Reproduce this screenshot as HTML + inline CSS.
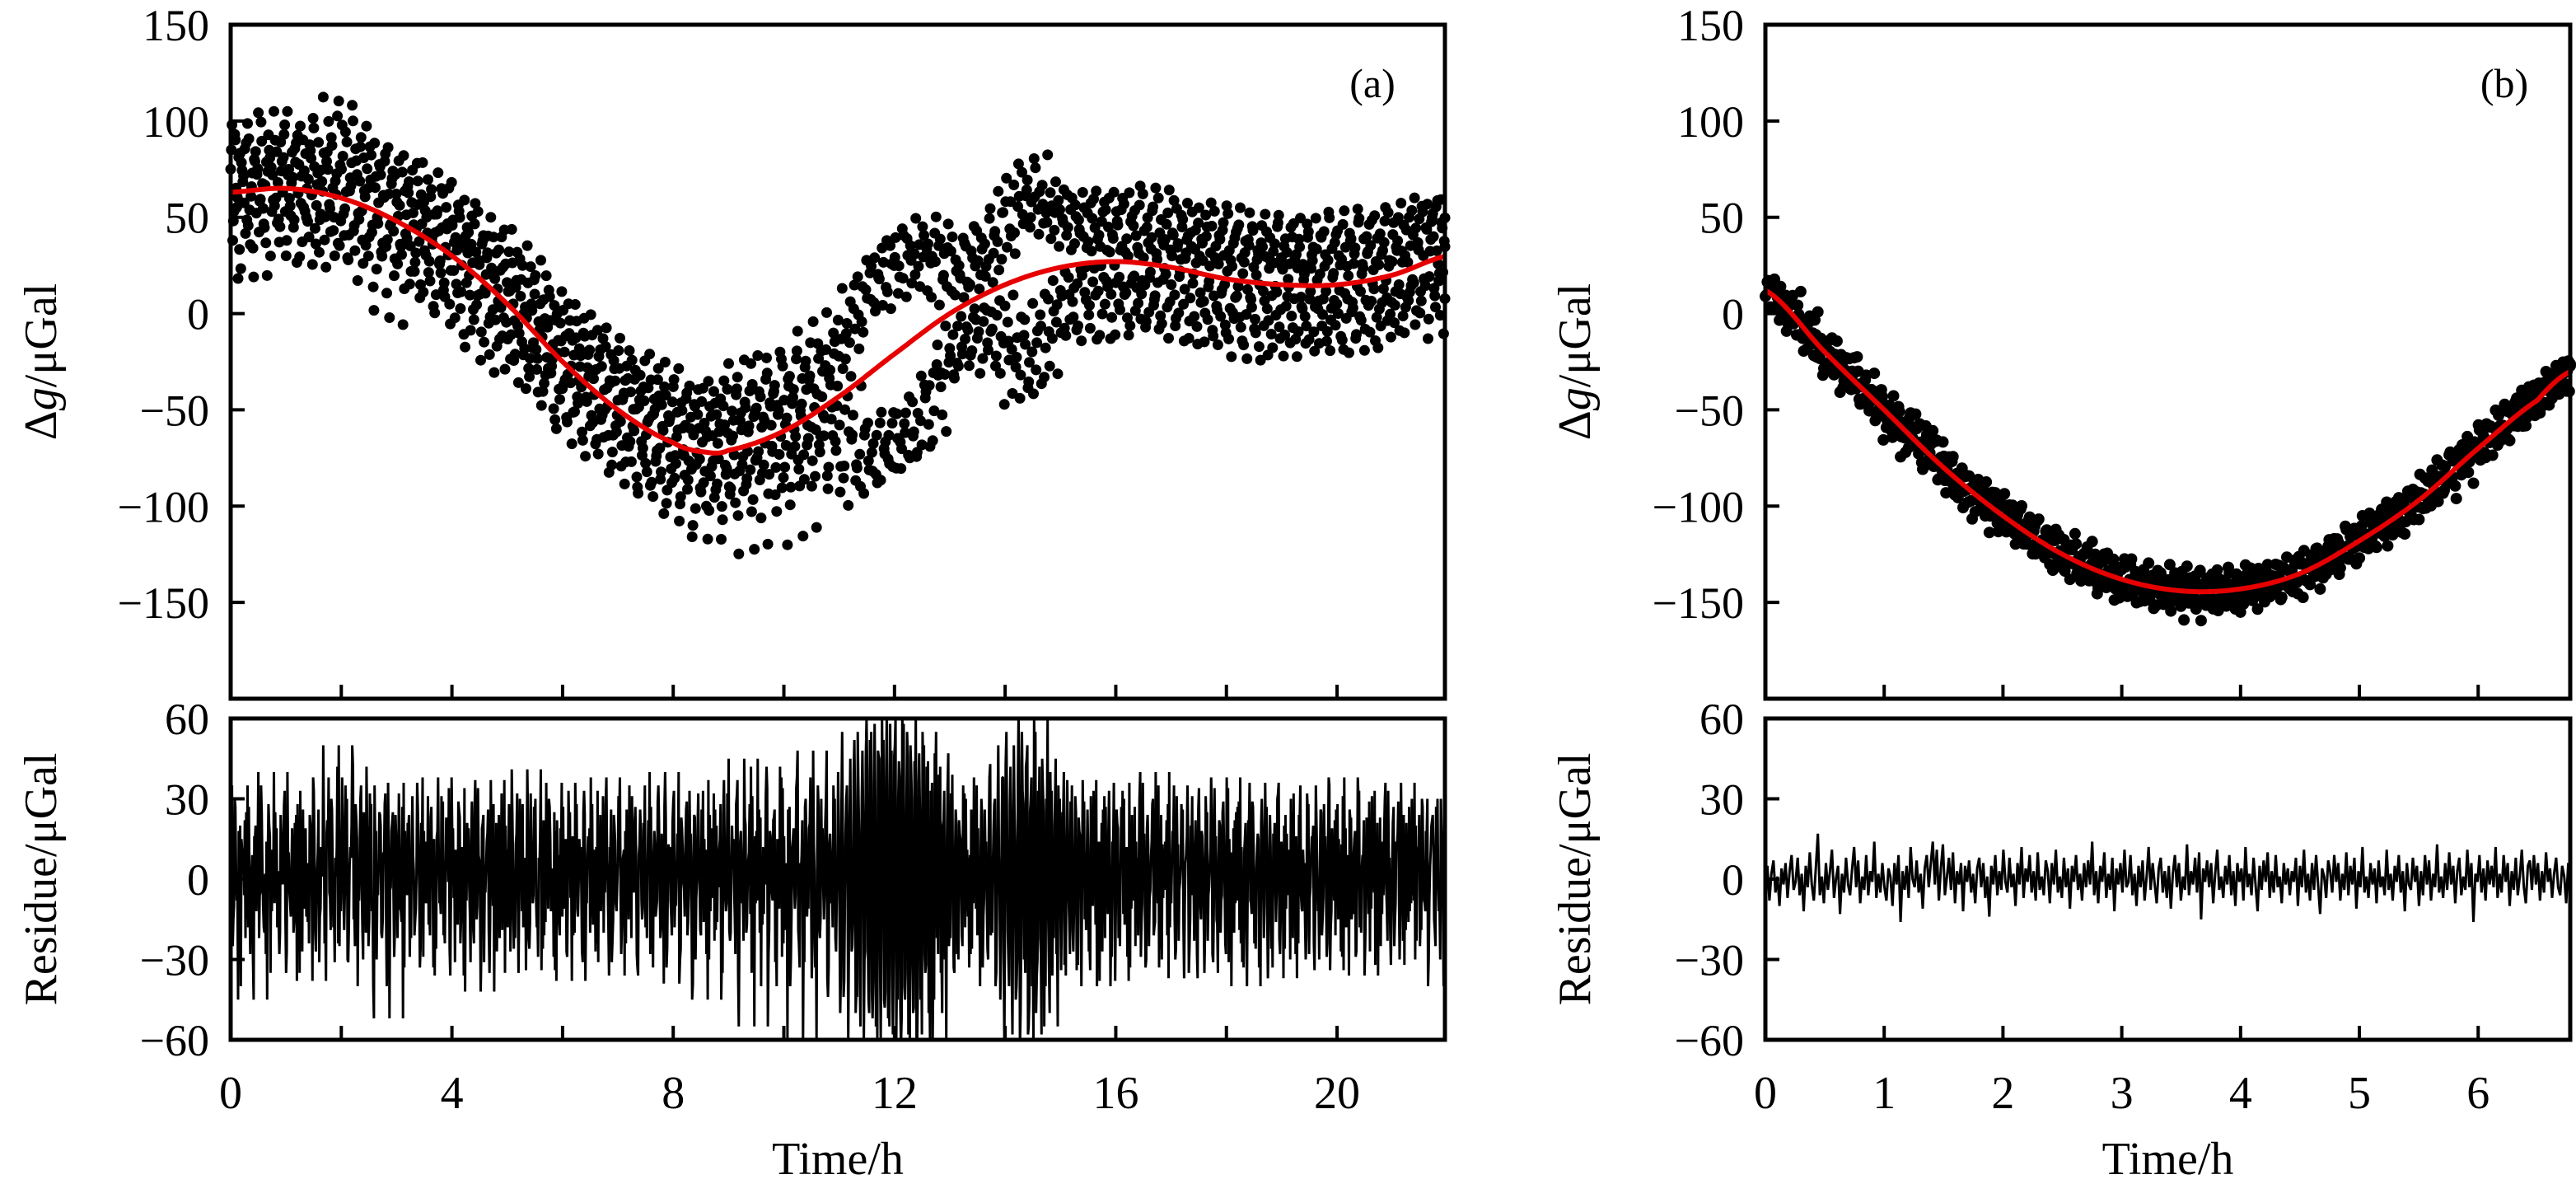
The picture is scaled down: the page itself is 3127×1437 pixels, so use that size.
<!DOCTYPE html>
<html><head><meta charset="utf-8"><style>
html,body{margin:0;padding:0;background:#fff;}
svg{display:block;font-family:"Liberation Serif",serif;}
</style></head><body>
<svg id="chart" width="3127" height="1437" viewBox="0 0 3127 1437" xmlns="http://www.w3.org/2000/svg"></svg>
<script>
// ---- Panel (a) data ----
const fitA_t = [0,1,2,3,4,5,6,7,8,8.6,9,10,11,12,13,14,15,16,17,18,19,20,21,22];
const fitA_v = [63,65,60,48,30,5,-25,-50,-67,-72,-71,-61,-43,-21,0,15,24,27,24,18,15,15,20,30];
const resA = [12,-25,30,-8,18,-40,5,22,-15,27,-3,-30,15,8,-22,35,-10,2,-45,20,11,-6,25,-18,-28,9,16,-12,40,-5,
3,-20,14,28,-35,7,-9,19,-16,24,-2,33,-27,10,-14,6,21,-38,13,-7,26,-11,1,-24,17,38,-19,4,-31,12,
50,-12,22,-5,30,-18,8,42,-25,15,-8,35,-30,5,20,-15,28,-40,12,-3,25,-20,10,32,-12,-52,18,-6,24,-22,
9,-16,36,-4,21,-29,14,3,-11,27,-33,6,18,-9,31,-21,2,15,-26,38,-7,11,-17,23,-1,-36,16,8,-13,29,
-24,12,34,-8,19,-31,5,26,-15,9,-42,21,-3,14,-19,37,-10,7,-27,24,-5,17,-35,11,28,-14,3,-22,32,-9,
20,-18,8,41,-26,13,-6,30,-12,4,-34,22,-16,10,27,-8,-29,18,2,-21,36,-11,15,-4,25,-38,9,19,-14,6,
-27,33,-7,16,-20,28,-2,12,-31,24,-9,5,38,-17,11,-24,20,-12,31,-5,7,-36,26,-15,14,-3,22,-28,9,18,
-11,35,-22,6,27,-33,13,-8,21,-18,4,40,-26,10,-14,29,-6,17,-39,23,-1,12,-21,33,-10,8,-30,19,-4,26,
-16,11,-45,24,-7,32,-19,5,15,-28,37,-12,9,-23,20,-3,28,-35,14,-9,45,-20,7,-13,31,-55,18,-5,23,-17,
10,42,-29,16,-8,26,-40,12,-2,34,-19,6,22,-31,15,-11,38,-24,3,-60,27,-14,19,-6,48,-33,9,-18,30,-4,
21,-37,13,-9,35,-22,6,-15,29,-44,17,-3,24,-27,40,-50,55,-38,30,-60,45,-25,52,-42,35,-55,48,-30,60,-45,
38,-52,58,-35,46,-60,30,-48,62,-40,25,-58,50,-32,44,-62,36,-45,55,-28,42,-50,33,-60,47,-22,39,-35,20,-30,
15,-25,32,-12,8,-28,22,-5,35,-18,11,-33,26,-9,17,-21,4,30,-14,9,-26,38,-11,19,-40,24,-7,14,-30,43,
-20,28,-35,50,-45,38,-62,55,-30,42,-58,25,-40,60,-50,33,-22,45,-55,30,-15,40,-36,20,-28,35,-12,25,-32,16,
-6,29,-19,11,-34,23,-3,37,-15,8,-27,31,-10,18,-40,14,-2,26,-22,6,33,-17,12,-38,21,-8,27,-13,5,-29,
36,-11,19,-25,8,30,-16,3,-33,24,-7,14,-21,40,-9,17,-30,11,-4,28,-18,6,35,-26,13,-1,22,-37,9,18,
-14,31,-23,5,26,-10,16,-35,20,-6,12,-28,34,-15,7,-20,25,-3,38,-31,10,-17,22,-8,29,-24,4,15,-40,19,
-9,27,-19,12,-33,21,-4,36,-13,8,-26,17,-1,30,-22,14,-37,24,-6,11,-16,32,-28,9,20,-11,3,-30,25,-7,
16,-24,35,-12,6,-21,28,-3,13,-34,19,-8,26,-15,10,-29,38,-18,4,22,-10,15,-27,31,-5,9,-36,23,-13,18,
-2,33,-20,7,-25,14,29,-11,5,-32,21,-16,12,-6,36,-23,8,-14,27,-9,17,-30,11,24,-19,4,-12,30,-8,20];
const spanA = 21.95;
const xTicksA = [0,2,4,6,8,10,12,14,16,18,20];
const xLabelsA = ["0","","4","","8","","12","","16","","20"];

// ---- Panel (b) data ----
const fitB_t = [0,0.5,1,1.5,2,2.5,3,3.5,4,4.5,5,5.5,6,6.5,6.78];
const fitB_v = [12,-20,-50,-80,-105,-125,-138,-144,-143,-135,-118,-97,-70,-45,-30];
const resB = [-3,5,-8,2,7,-5,1,-10,4,-2,6,-7,3,9,-4,-1,8,-6,2,-12,
5,-3,10,-2,-8,4,17,-6,1,-9,6,-4,3,11,-7,0,5,-13,2,-5,
8,-2,-6,4,12,-3,7,-9,1,-4,9,-6,3,-1,14,-7,2,-5,6,-3,
-8,4,1,-10,6,-2,9,-16,3,-4,5,-7,12,0,-3,7,-5,2,-11,4,
9,-3,6,14,-2,11,-8,4,13,-6,1,8,-4,10,-9,3,-2,6,-12,5,
-1,7,-5,2,-9,4,8,-3,6,-7,1,-14,5,-2,9,-6,3,-4,11,-1,
-5,8,-3,2,-10,6,-2,12,-7,4,-1,9,-5,3,-8,10,-4,1,-6,7,
3,-9,6,-2,11,-5,1,-7,8,-3,4,-11,5,-1,9,-4,2,-8,6,-3,
7,-2,14,-6,3,-9,5,-1,10,-7,2,-4,8,-12,4,-2,6,-5,11,-3,
-1,9,-6,2,-10,5,-3,7,-8,1,12,-4,6,-2,-9,4,8,-5,3,-7,
5,-11,2,9,-3,6,-8,1,-4,13,-6,3,-2,8,-5,10,-15,4,-1,7,
-3,6,-9,2,11,-4,1,-7,5,-2,9,-6,3,-10,6,-1,4,-8,12,-3,
2,-6,8,-2,-12,5,-4,7,-1,10,-7,3,-5,9,-3,1,-9,6,-2,4,
-6,3,-1,8,-10,5,-3,11,-5,2,-8,6,-4,9,-2,-13,4,1,-7,7,
3,-5,9,-1,6,-8,2,-4,10,-6,5,-2,8,-11,3,-3,12,-5,1,-7,
6,-2,4,-9,7,-3,1,-6,11,-4,2,-8,5,-1,9,-5,3,-12,6,-2,
-4,8,-1,5,-10,3,-6,9,-2,7,-8,2,-3,13,-5,1,-7,6,-4,10,
-2,5,-9,3,8,-6,1,-4,11,-3,6,-16,2,-1,9,-5,4,-8,7,-2,
5,-3,12,-7,2,-5,9,-1,6,-10,3,-4,8,-6,1,11,-3,-9,5,7,
-4,9,-2,6,-8,3,-5,10,-1,4,-7,2,8,-3,-6,5,1,-9,6,3];
const spanB = 6.775;
const xTicksB = [0,1,2,3,4,5,6];
const xLabelsB = ["0","1","2","3","4","5","6"];

const yTicksTop = [150,100,50,0,-50,-100,-150];
const yLabelsTop = ["150","100","50","0","\u221250","\u2212100","\u2212150"];
const yTicksBot = [60,30,0,-30,-60];
const yLabelsBot = ["60","30","0","\u221230","\u221260"];

const NS = "http://www.w3.org/2000/svg";
const svg = document.getElementById('chart');
function mk(tag, attrs, parent){ const e=document.createElementNS(NS,tag); for(const k in attrs) e.setAttribute(k,attrs[k]); (parent||svg).appendChild(e); return e; }

function cr(ts, vs, t){
  let i=0; while(i<ts.length-2 && t>ts[i+1]) i++;
  const p0=vs[Math.max(i-1,0)],p1=vs[i],p2=vs[i+1],p3=vs[Math.min(i+2,vs.length-1)];
  const u=(t-ts[i])/(ts[i+1]-ts[i]);
  return 0.5*((2*p1)+(-p0+p2)*u+(2*p0-5*p1+4*p2-p3)*u*u+(-p0+3*p1-3*p2+p3)*u*u*u);
}

function panel(cfg){
  const g = mk('g',{});
  
  
  const L=cfg.L,R=cfg.R;
  const xs = t => L + (t/cfg.span)*(R-L);
  const T1=30,B1=848,T2=872,B2=1262;
  const ysTop = v => T1 + (150-v)/350*(B1-T1);
  const ysBot = v => T2 + (60-v)/120*(B2-T2);
  const n = cfg.res.length;
  const step = cfg.span/(n-1);
  const dots = mk('g',{fill:'#000'},g);
  
  
  cfg.layers.forEach((off,li)=>{
    for(let i=0;i<n;i++){
      const t = Math.min(cfg.span, i*step + li*step/cfg.layers.length);
      const v = cr(cfg.ft,cfg.fv,t)+cfg.res[(i+off)%n];
      const c = mk('circle',{cx:xs(t).toFixed(1),cy:ysTop(v).toFixed(1),r:cfg.r},dots);
      
      
    }
  });
  let d='';
  for(let k=0;k<=400;k++){ const t=k/400*cfg.span; d+=(k?'L':'M')+xs(t).toFixed(1)+','+ysTop(cr(cfg.ft,cfg.fv,t)).toFixed(1); }
  const fit = mk('path',{d:d,fill:'none',stroke:'#e60000','stroke-width':6},g);
  
  
  let d2='';
  let k=0;
  cfg.rlayers.forEach((off,li)=>{});
  for(let i=0;i<n;i++){
    cfg.rlayers.forEach((off,li)=>{
      const t=Math.min(cfg.span, i*step + li*step/cfg.rlayers.length);
      const v=Math.max(-62,Math.min(62,cfg.res[(i+off)%n]));
      d2+=(k++?'L':'M')+xs(t).toFixed(1)+','+ysBot(v).toFixed(1);
    });
  }
  const clip = mk('clipPath',{id:'clip'+cfg.id},g);
  mk('rect',{x:L,y:T2,width:R-L,height:B2-T2},clip);
  const rl = mk('path',{d:d2,fill:'none',stroke:'#000','stroke-width':cfg.rw,'stroke-linejoin':'bevel','clip-path':'url(#clip'+cfg.id+')'},g);
  
  
  const f1 = mk('rect',{x:L,y:T1,width:R-L,height:B1-T1,fill:'none',stroke:'#000','stroke-width':5},g);
  
  
  const f2 = mk('rect',{x:L,y:T2,width:R-L,height:B2-T2,fill:'none',stroke:'#000','stroke-width':5},g);
  
  
  cfg.xt.forEach((t,i)=>{
    const x=xs(t);
    mk('line',{x1:x,x2:x,y1:B1,y2:B1-17,stroke:'#000','stroke-width':4},g);
    mk('line',{x1:x,x2:x,y1:B2,y2:B2-17,stroke:'#000','stroke-width':4},g);
    if(cfg.xl[i]!==''){
      const tx = mk('text',{x:x,y:1345,'font-size':56,'text-anchor':'middle'},g);
      tx.textContent = cfg.xl[i];
      
      
    }
  });
  yTicksTop.forEach((v,i)=>{
    const y=ysTop(v);
    mk('line',{x1:L,x2:L+17,y1:y,y2:y,stroke:'#000','stroke-width':4},g);
    const tx = mk('text',{x:L-26,y:y+19,'font-size':54,'text-anchor':'end'},g);
    tx.textContent = yLabelsTop[i];
    
    
  });
  yTicksBot.forEach((v,i)=>{
    const y=ysBot(v);
    mk('line',{x1:L,x2:L+17,y1:y,y2:y,stroke:'#000','stroke-width':4},g);
    const tx = mk('text',{x:L-26,y:y+19,'font-size':54,'text-anchor':'end'},g);
    tx.textContent = yLabelsBot[i];
    
    
  });
  const ya = mk('text',{x:0,y:0,'font-size':56,'text-anchor':'middle',transform:'translate('+(cfg.yLabX)+','+((T1+B1)/2)+') rotate(-90)'},g);
  ya.innerHTML = '\u0394<tspan font-style="italic">g</tspan>/\u03bcGal';
  
  
  const yb = mk('text',{x:0,y:0,'font-size':56,'text-anchor':'middle',transform:'translate('+(cfg.yLabX)+','+((T2+B2)/2)+') rotate(-90)'},g);
  yb.textContent = 'Residue/\u03bcGal';
  
  
  const xa = mk('text',{x:(L+R)/2,y:1425,'font-size':56,'text-anchor':'middle'},g);
  xa.textContent = 'Time/h';
  
  
  const pl = mk('text',{x:cfg.tagX,y:118,'font-size':50,'text-anchor':'middle'},g);
  pl.textContent = cfg.tag;
  
  
}

panel({name:'panel-a',id:'a',L:280,R:1754,span:spanA,ft:fitA_t,fv:fitA_v,res:resA,r:6.5,rw:3,layers:[0,7,15],rlayers:[0,7,15],xt:xTicksA,xl:xLabelsA,yLabX:68,tagX:1666,tag:'(a)'});
panel({name:'panel-b',id:'b',L:2143,R:3120,span:spanB,ft:fitB_t,fv:fitB_v,res:resB,r:7,rw:3,layers:[0,9],rlayers:[0],xt:xTicksB,xl:xLabelsB,yLabX:1930,tagX:3040,tag:'(b)'});
</script>
</body></html>
